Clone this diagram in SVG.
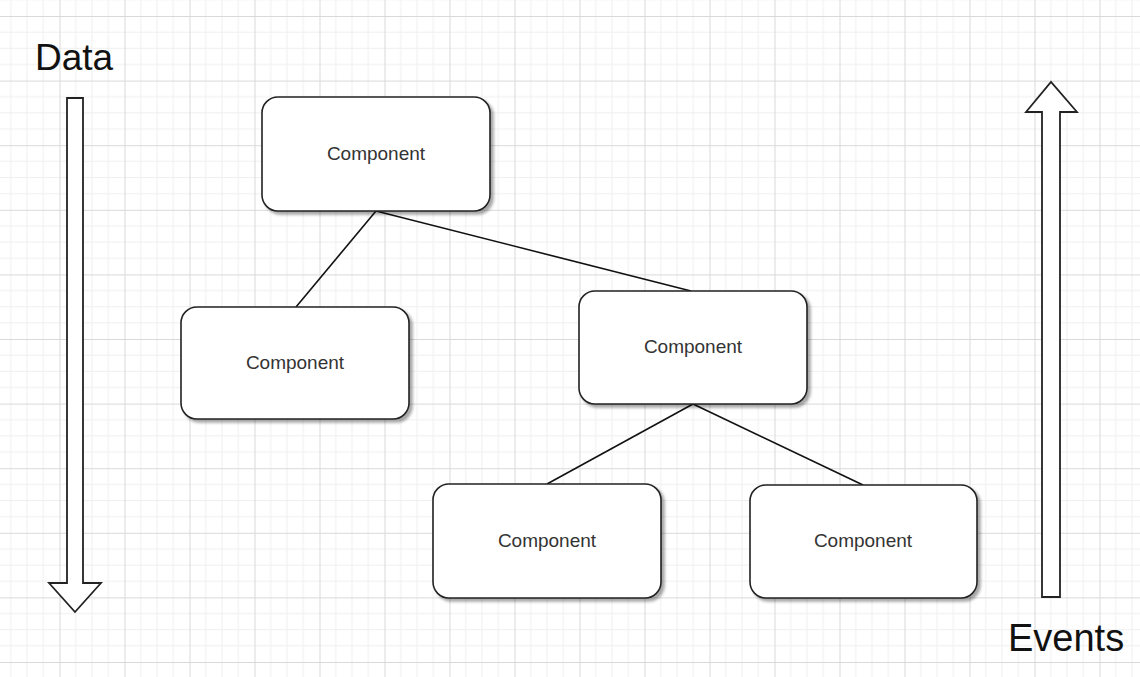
<svg xmlns="http://www.w3.org/2000/svg" width="1140" height="677" viewBox="0 0 1140 677">
  <defs>
    <!-- background grid: major cells split into 4x4 minor cells -->
    <pattern id="grid" x="59.5" y="16" width="65" height="64.6" patternUnits="userSpaceOnUse">
      <path d="M16.25 0V64.6M32.5 0V64.6M48.75 0V64.6M0 16.15H65M0 32.3H65M0 48.45H65" fill="none" stroke="#efefef" stroke-width="1"/>
      <path d="M0.5 0V64.6M0 0.5H65" fill="none" stroke="#d9d9d9" stroke-width="1"/>
    </pattern>
    <filter id="shadow" x="-10%" y="-10%" width="125%" height="130%">
      <feGaussianBlur in="SourceAlpha" stdDeviation="1.5"/>
      <feOffset dx="3" dy="3" result="b"/>
      <feComponentTransfer><feFuncA type="linear" slope="0.35"/></feComponentTransfer>
      <feMerge><feMergeNode/><feMergeNode in="SourceGraphic"/></feMerge>
    </filter>
  </defs>
  <style>
    .box { fill: #ffffff; stroke: #222222; stroke-width: 1.6; filter: url(#shadow); }
    .label { font-family: "Liberation Sans", Arial, sans-serif; font-size: 19px; fill: #333333; text-anchor: middle; }
    .edge { stroke: #111111; stroke-width: 1.6; fill: none; }
    .flow { fill: #ffffff; stroke: #222222; stroke-width: 1.8; stroke-linejoin: miter; }
    .title { font-family: "Liberation Sans", Arial, sans-serif; font-size: 37px; fill: #111111; }
  </style>

  <rect width="1140" height="677" fill="#ffffff"/>
  <rect width="1140" height="677" fill="url(#grid)"/>

  <!-- connectors -->
  <g id="connectors">
    <line class="edge" x1="376" y1="211" x2="296" y2="307"/>
    <line class="edge" x1="376" y1="211" x2="691" y2="291"/>
    <line class="edge" x1="693" y1="404" x2="547" y2="484"/>
    <line class="edge" x1="693" y1="404" x2="863" y2="485"/>
  </g>

  <!-- data flows downward -->
  <g id="data-flow">
    <text class="title" x="35" y="70">Data</text>
    <path class="flow" d="M67 98H83V583H101L75 612L49 583H67Z"/>
  </g>

  <!-- events flow upward -->
  <g id="events-flow">
    <path class="flow" d="M1042 597V112H1026L1051 82L1077 112H1060V597Z"/>
    <text class="title" x="1008" y="651" style="font-size:38px">Events</text>
  </g>

  <g id="root">
    <rect class="box" x="262" y="97" width="228" height="114" rx="16"/>
    <text class="label" x="376" y="160">Component</text>
  </g>
  <g id="child-left">
    <rect class="box" x="181" y="307" width="228" height="112" rx="16"/>
    <text class="label" x="295" y="369">Component</text>
  </g>
  <g id="child-right">
    <rect class="box" x="579" y="291" width="228" height="113" rx="16"/>
    <text class="label" x="693" y="353">Component</text>
  </g>
  <g id="leaf-left">
    <rect class="box" x="433" y="484" width="228" height="114" rx="16"/>
    <text class="label" x="547" y="547">Component</text>
  </g>
  <g id="leaf-right">
    <rect class="box" x="750" y="485" width="227" height="113" rx="16"/>
    <text class="label" x="863" y="547">Component</text>
  </g>
</svg>
